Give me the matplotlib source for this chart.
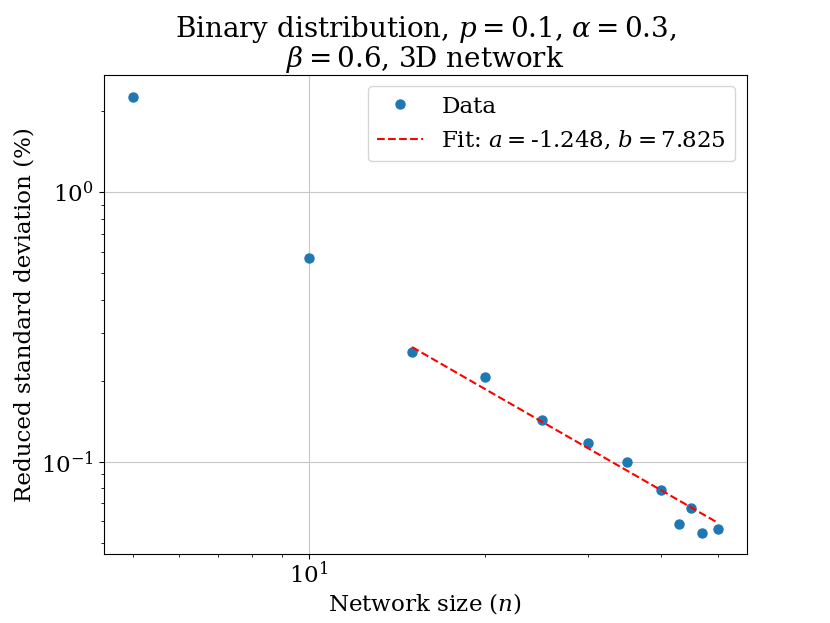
import numpy as np
import matplotlib
matplotlib.use("Agg")
import matplotlib.pyplot as plt

plt.rcParams['font.family'] = 'DejaVu Serif'
plt.rcParams['mathtext.fontset'] = 'dejavuserif'

# network sizes and reduced standard deviation (%)
n = [5, 10, 15, 20, 25, 30, 35, 40, 43, 45, 47, 50]
std = [2.27, 0.569, 0.256, 0.207, 0.143, 0.117, 0.100, 0.0787, 0.0589, 0.0675, 0.0545, 0.0563]

# power law fit parameters, y = b * n^a
a = -1.248
b = 7.825
fit_start = 15

fig, ax = plt.subplots(figsize=(8.3, 6.23), dpi=100)

ax.plot(n, std, 'o', color='#1f77b4', markersize=6.5, label='Data')
nf = np.array([x for x in n if x >= fit_start], dtype=float)
ax.plot(nf, b * nf ** a, '--', color='red',
        label=r'Fit: $a = $' + f'{a:.3f}' + r', $b = $' + f'{b:.3f}')

ax.set_xscale('log')
ax.set_yscale('log')
ax.grid(True, color='#c8c8c8')
ax.set_xlabel(r'Network size ($n$)', fontsize=16.6, labelpad=2.5)
ax.set_ylabel('Reduced standard deviation (%)', fontsize=16.6)
ax.set_title('Binary distribution, $p = 0.1$, $\\alpha = 0.3$,\n$\\beta = 0.6$, 3D network',
             fontsize=20, linespacing=0.95, pad=2)
ax.tick_params(labelsize=16.6)
ax.tick_params(axis='x', pad=1.5)
ax.legend(fontsize=16.6, loc='upper right')

fig.savefig('out.png')
